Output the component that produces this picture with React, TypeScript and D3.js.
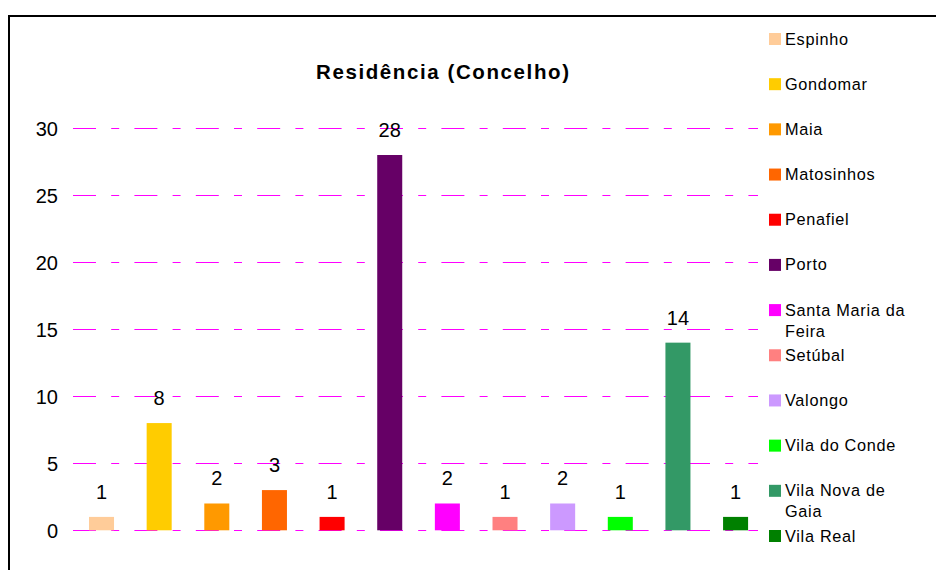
import * as d3 from "d3";

const categories = [
  "Espinho", "Gondomar", "Maia", "Matosinhos", "Penafiel", "Porto",
  "Santa Maria da Feira", "Setúbal", "Valongo", "Vila do Conde", "Vila Nova de Gaia", "Vila Real",
];
const values = [1, 8, 2, 3, 1, 28, 2, 1, 2, 1, 14, 1];
const colors = [
  "#FFCC99", "#FFCC00", "#FF9900", "#FF6600", "#FF0000", "#660066",
  "#FF00FF", "#FF8080", "#CC99FF", "#00FF00", "#339966", "#008000",
];
const legendLines = [
  ["Espinho"], ["Gondomar"], ["Maia"], ["Matosinhos"], ["Penafiel"], ["Porto"],
  ["Santa Maria da", "Feira"], ["Setúbal"], ["Valongo"], ["Vila do Conde"], ["Vila Nova de", "Gaia"], ["Vila Real"],
];
const yTicks = [0, 5, 10, 15, 20, 25, 30];
const title = "Residência (Concelho)";

const W = 936;
const H = 570;
const font = "'Liberation Sans', Arial, sans-serif";

export default function App() {
  const x = d3.scaleBand<string>()
    .domain(categories)
    .range([72.7, 764.4])
    .paddingInner(0.566)
    .paddingOuter(0.283);

  const y = d3.scaleLinear().domain([0, 30]).range([530.3, 128.2]);

  // legend rows
  const legendY = d3.scaleLinear().domain([0, 11]).range([39, 536]);

  return (
    <svg
      width={W}
      height={H}
      style={{ position: "absolute", left: 0, top: 0, background: "#fff" }}
      fontFamily={font}
    >
      <rect x={0} y={0} width={W} height={H} fill="#fff" />
      <rect x={9} y={16} width={W + 20} height={H + 20} fill="none" stroke="#000" strokeWidth={2} />

      <text x={316} y={79} fontSize={20.5} fontWeight="bold" letterSpacing={1.6} fill="#000">
        {title}
      </text>

      {/* gridlines + tick labels */}
      {yTicks.map((t) => {
        const yy = Math.round(y(t)) + 0.5;
        return (
          <g key={t}>
            <line
              x1={73}
              x2={758}
              y1={yy}
              y2={yy}
              stroke="#FF00FF"
              strokeWidth={1}
              strokeDasharray="23 15.2 8 15.2"
            />
            <text x={58} y={yy} dy="0.35em" textAnchor="end" fontSize={20} fill="#000">
              {t}
            </text>
          </g>
        );
      })}

      {/* bars */}
      {categories.map((c, i) => (
        <g key={c}>
          <rect
            x={x(c)}
            y={y(values[i])}
            width={x.bandwidth()}
            height={y(0) - y(values[i])}
            fill={colors[i]}
          />
          <text
            x={(x(c) as number) + x.bandwidth() / 2}
            y={y(values[i]) - 18}
            textAnchor="middle"
            fontSize={20}
            fill="#000"
          >
            {values[i]}
          </text>
        </g>
      ))}

      {/* legend */}
      {categories.map((c, i) => {
        const cy = legendY(i);
        return (
          <g key={"lg" + c}>
            <rect x={769} y={cy - 6} width={12} height={12} fill={colors[i]} />
            {legendLines[i].map((line, j) => (
              <text
                key={j}
                x={785}
                y={cy + 5.5 + j * 21}
                fontSize={16.3}
                letterSpacing={0.7}
                fill="#000"
              >
                {line}
              </text>
            ))}
          </g>
        );
      })}
    </svg>
  );
}
